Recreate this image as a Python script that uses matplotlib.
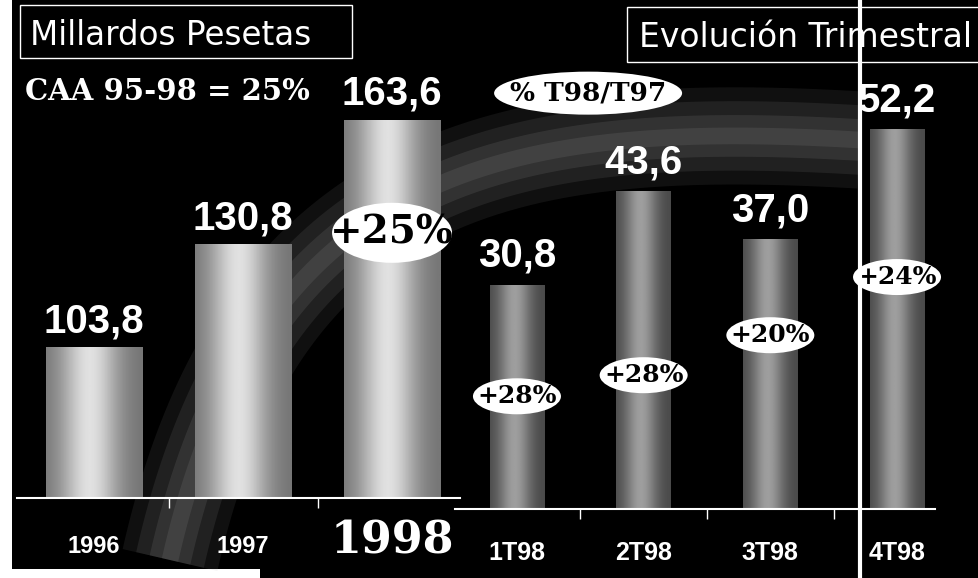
"""Ventas: evolución anual y trimestral (millardos de pesetas)."""

import matplotlib

matplotlib.use("Agg")
import matplotlib.pyplot as plt
import numpy as np
from matplotlib.lines import Line2D
from matplotlib.patches import Ellipse, Rectangle
from matplotlib.transforms import IdentityTransform

# data
annual_labels = ["1996", "1997", "1998"]
annual_values = [103.8, 130.8, 163.6]
annual_growth = "+25%"
cagr_text = "CAA 95-98 = 25%"

quarter_labels = ["1T98", "2T98", "3T98", "4T98"]
quarter_values = [30.8, 43.6, 37.0, 52.2]
quarter_growth = ["+28%", "+28%", "+20%", "+24%"]

# where the growth badges sit (data units on each axis)
annual_badge_y = 134.0
quarter_badge_y = [15.5, 18.4, 23.9, 31.9]

W, H = 979, 578
SANS = ["Liberation Sans", "DejaVu Sans"]
SERIF = ["DejaVu Serif"]


def fmt(v):
    return f"{v:.1f}".replace(".", ",")


def shade_bars(ax, bars, lo, hi):
    # horizontal light-to-dark gradient painted over each bar
    u = np.linspace(0, 1, 64)
    profile = lo + (hi - lo) * np.exp(-((u - 0.45) / 0.3) ** 2)
    grad = np.tile(profile, (2, 1))
    ymin = ax.get_ylim()[0]
    for b in bars:
        x0 = b.get_x()
        y0 = max(b.get_y(), ymin)
        y1 = b.get_y() + b.get_height()
        ax.imshow(grad, extent=[x0, x0 + b.get_width(), y0, y1],
                  cmap="gray", vmin=0, vmax=1, aspect="auto", zorder=2)


def badge(ax, xy, text, w, h, size, coords="data"):
    trans = ax.transData if coords == "data" else ax.transAxes
    cx, cy = trans.transform(xy)
    fig.add_artist(Ellipse((cx, cy), w, h, transform=IdentityTransform(),
                           facecolor="white", edgecolor="none", zorder=3))
    fig.text(cx, cy, text, transform=IdentityTransform(), ha="center", va="center",
             family=SERIF, weight="bold", size=size, color="black", zorder=4)


fig = plt.figure(figsize=(W / 100, H / 100), dpi=100, facecolor="white")

# background layer in pixel coordinates
bg = fig.add_axes([0, 0, 1, 1], zorder=0)
bg.set_xlim(0, W)
bg.set_ylim(H, 0)
bg.axis("off")
bg.add_patch(Rectangle((12, 0), W - 12, H, facecolor="black", edgecolor="none"))
bg.add_patch(Rectangle((0, 569), 260, 9, facecolor="white", edgecolor="none"))

# grey swoosh behind the bars
t = np.linspace(0, 1, 200)[:, None]
ctrl = np.array([[170, 560], [260, 160], [520, 120], [860, 140]])
curve = ((1 - t) ** 3) * ctrl[0] + 3 * ((1 - t) ** 2 * t) * ctrl[1] \
    + 3 * ((1 - t) * t ** 2) * ctrl[2] + (t ** 3) * ctrl[3]
for lw, a in [(70, 0.10), (50, 0.12), (30, 0.14), (12, 0.14)]:
    bg.plot(curve[:, 0], curve[:, 1], color="#a0a0a0", lw=lw, alpha=a, solid_capstyle="butt")

# header boxes
bg.add_patch(Rectangle((20, 5), 332, 53, facecolor="black", edgecolor="white", lw=1))
bg.add_patch(Rectangle((627, 7), 400, 55, facecolor="black", edgecolor="white", lw=1))
bg.text(30, 45, "Millardos Pesetas", color="white", size=23.5, family="DejaVu Sans", va="baseline")
bg.text(639, 47, "Evolución Trimestral", color="white", size=23.8, family="DejaVu Sans",
        va="baseline")
bg.text(25, 100, cagr_text, color="white", size=21, family=SERIF, weight="bold", va="baseline")

# annual and quarterly axes
ax_y = fig.add_axes([17 / W, 80 / H, 443 / W, 498 / H], zorder=1)
ax_q = fig.add_axes([455 / W, 69 / H, 524 / W, 509 / H], zorder=2)

for ax in (ax_y, ax_q):
    ax.set_facecolor("none")
    for side in ("left", "right", "top"):
        ax.spines[side].set_visible(False)
    ax.spines["bottom"].set_color("white")
    ax.spines["bottom"].set_linewidth(1.5)
    ax.set_yticks([])
    ax.tick_params(axis="x", which="major", length=0, colors="white")
    ax.tick_params(axis="x", which="minor", length=7, width=1, color="white", direction="out")

xa = np.arange(len(annual_values))
ax_y.set_xlim(-0.517, 2.456)
ax_y.set_ylim(64.4, 195.1)
bars_y = ax_y.bar(xa, annual_values, width=0.65, color="#999999", zorder=1)
shade_bars(ax_y, bars_y, 0.45, 0.88)
ax_y.set_xlim(-0.517, 2.456)
ax_y.set_ylim(64.4, 195.1)
ax_y.set_xticks(xa, annual_labels)
ax_y.set_xticks([0.5, 1.5], minor=True)
ax_y.tick_params(axis="x", which="major", pad=39.6)
for i, lbl in enumerate(ax_y.get_xticklabels()):
    lbl.set_va("baseline")
    lbl.set_weight("bold")
    if i == len(annual_labels) - 1:
        lbl.set_family(SERIF)
        lbl.set_size(32)
    else:
        lbl.set_family(SANS)
        lbl.set_size(17)
for x, v in zip(xa, annual_values):
    ax_y.annotate(fmt(v), (x, v), xytext=(0, 11), textcoords="offset points",
                  ha="center", va="baseline", color="white", size=29,
                  family=SANS, weight="bold", zorder=5)

xq = np.arange(len(quarter_values))
ax_q.set_xlim(-0.489, 3.647)
ax_q.set_ylim(0, 70.0)
bars_q = ax_q.bar(xq, quarter_values, width=0.43, color="#777777", zorder=1)
shade_bars(ax_q, bars_q, 0.28, 0.62)
ax_q.set_xlim(-0.489, 3.647)
ax_q.set_ylim(0, 70.0)
ax_q.spines["bottom"].set_bounds(-0.489, 3.3)
ax_q.set_xticks(xq, quarter_labels)
ax_q.set_xticks([0.5, 1.5, 2.5], minor=True)
ax_q.tick_params(axis="x", which="major", pad=37)
for lbl in ax_q.get_xticklabels():
    lbl.set_va("baseline")
    lbl.set_family(SANS)
    lbl.set_weight("bold")
    lbl.set_size(18)
for x, v in zip(xq, quarter_values):
    ax_q.annotate(fmt(v), (x, v), xytext=(0, 13), textcoords="offset points",
                  ha="center", va="baseline", color="white", size=29,
                  family=SANS, weight="bold", zorder=5)

# growth badges
badge(ax_y, (xa[-1], annual_badge_y), annual_growth, 120, 60, 28)
badge(ax_q, (0.254, 0.817), "% T98/T97", 188, 43, 19, coords="axes")
for x, y, g in zip(xq, quarter_badge_y, quarter_growth):
    badge(ax_q, (x, y), g, 88, 36, 18)

# divider before the last quarter
fig.add_artist(Line2D([860 / W, 860 / W], [0, 1], transform=fig.transFigure,
                      color="white", lw=3, zorder=6))

fig.savefig("out.png", dpi=100, facecolor=fig.get_facecolor())
